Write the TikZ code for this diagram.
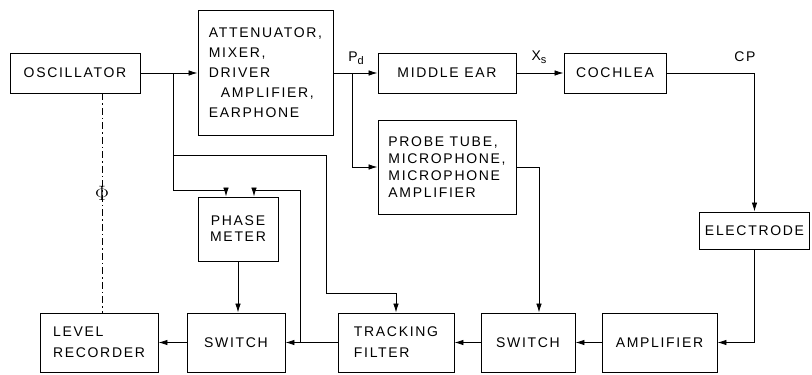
\documentclass[tikz,border=0pt]{standalone}
\usepackage{fontspec}
\newfontfamily\lettering[LetterSpace=12]{Liberation Sans}
\usetikzlibrary{arrows.meta}

\tikzset{
  blk/.style={draw, line width=0.9pt, inner sep=2pt, align=center,
    font=\lettering\fontsize{14}{18}\selectfont},
  arr/.style={line width=0.8pt, -{Latex[length=9pt,width=5.5pt]}},
  wire/.style={line width=0.8pt},
  phaseline/.style={line width=0.8pt, dash pattern=on 7pt off 3pt on 1.5pt off 3pt},
  lbl/.style={font=\lettering\fontsize{14}{18}\selectfont, inner sep=0pt}
}

\begin{document}
\begin{tikzpicture}[x=1pt, y=-1pt]
        \useasboundingbox (0,0) rectangle (812,375);

        % Upper row
        \node[blk, minimum width=130pt, minimum height=40pt] (osc) at (75,73) {OSCILLATOR};
        \node[blk, align=left, minimum width=135pt, minimum height=125pt,
              font=\lettering\fontsize{14}{20}\selectfont] (atten) at (265.5,73)
              {ATTENUATOR,\\MIXER,\\DRIVER\\\hspace{12pt}AMPLIFIER,\\EARPHONE};
        \node[blk, minimum width=138pt, minimum height=40pt] (mid) at (447,73) {MIDDLE EAR};
        \node[blk, minimum width=102pt, minimum height=40pt] (coch) at (615,73) {COCHLEA};
        \node[blk, align=left, minimum width=138pt, minimum height=94pt,
              font=\lettering\fontsize{14}{17}\selectfont] (probe) at (447,167)
              {PROBE TUBE,\\MICROPHONE,\\MICROPHONE\\AMPLIFIER};
        \node[blk, minimum width=110pt, minimum height=37pt] (elec) at (754.5,230.5) {ELECTRODE};
        \node[blk, minimum width=80pt, minimum height=64pt,
              font=\lettering\fontsize{14}{16}\selectfont] (phase) at (238,229) {PHASE\\METER};

        % Lower row
        \node[blk, align=left, minimum width=118pt, minimum height=59pt,
              font=\lettering\fontsize{14}{21}\selectfont] (level) at (99,342.5) {LEVEL\\RECORDER};
        \node[blk, minimum width=98pt, minimum height=59pt] (sw1) at (236,342.5) {SWITCH};
        \node[blk, align=left, minimum width=116pt, minimum height=59pt,
              font=\lettering\fontsize{14}{21}\selectfont] (track) at (396,342.5) {TRACKING\\FILTER};
        \node[blk, minimum width=94pt, minimum height=59pt] (sw2) at (528,342.5) {SWITCH};
        \node[blk, minimum width=115pt, minimum height=59pt] (amp) at (659.5,342.5) {AMPLIFIER};

        % Branch points
        \coordinate (b1) at (173,73);
        \coordinate (b2) at (352,73);
        \coordinate (b3) at (300,342.5);

        % Signal path
        \draw[arr] (osc) -- (atten);
        \draw[arr] (atten) -- (mid);
        \draw[arr] (mid) -- (coch);
        \draw[arr] (coch) -| (elec.north);
        \draw[arr] (elec.south) |- (amp.east);
        \draw[arr] (amp) -- (sw2);
        \draw[arr] (sw2) -- (track);
        \draw[arr] (track) -- (sw1);
        \draw[arr] (sw1) -- (level);
        \draw[arr] (b2) |- (probe.west);
        \draw[arr] (probe.east) -| ([xshift=11pt]sw2.north);

        % Reference lines to phase meter and tracking filter
        \draw[wire] (b1) |- (326,155) -- (326,293);
        \draw[arr] (326,293) -| (track.north);
        \draw[arr] (b1) -- (173,190) -| ([xshift=-12pt]phase.north);
        \draw[arr] (b3) -- (300,190) -| ([xshift=16pt]phase.north);
        \draw[arr] (phase.south) -- (phase.south |- sw1.north);

        % Mechanical link oscillator - level recorder
        \draw[phaseline] ([xshift=27pt]osc.south) -- ([xshift=27pt]osc.south |- level.north);
        \node[lbl, font=\fontsize{20}{20}\selectfont] (phi) at (102,193) {$\Phi$};

        % Labels
        \node[lbl] (pd) at (356,58) {P\raisebox{-3pt}{\fontsize{11}{11}\selectfont d}};
        \node[lbl] (xs) at (539,57) {X\raisebox{-3pt}{\fontsize{11}{11}\selectfont s}};
        \node[lbl] (cp) at (745,57) {CP};
\end{tikzpicture}
\end{document}
